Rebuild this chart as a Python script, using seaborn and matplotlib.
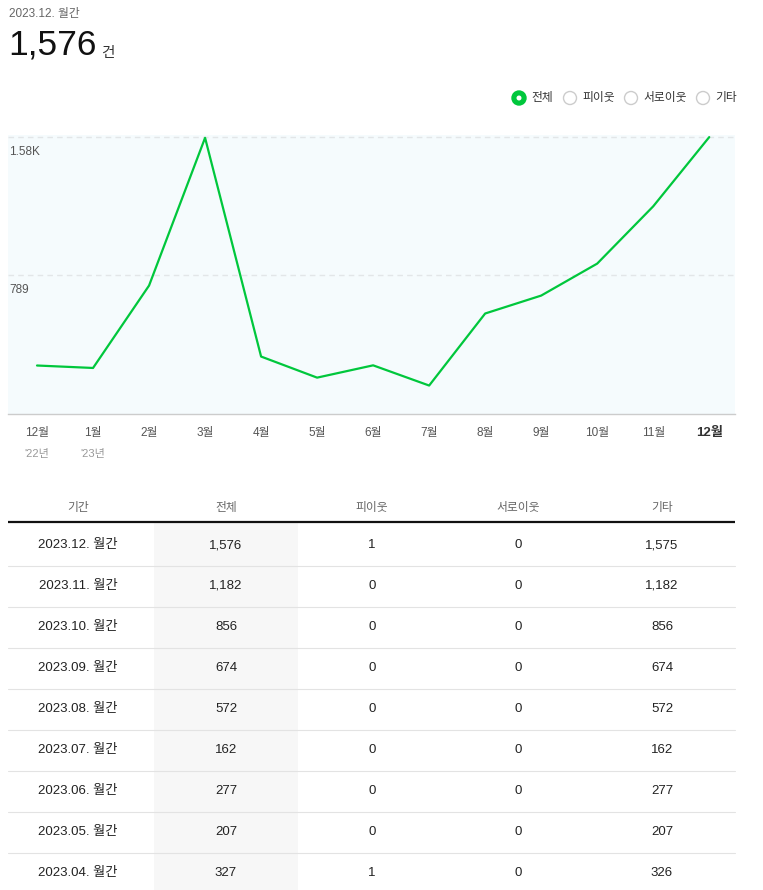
import matplotlib
matplotlib.use("Agg")
import matplotlib.pyplot as plt
import seaborn as sns
import pandas as pd
from matplotlib.patches import Circle, Rectangle

# ---------------- data ----------------
months = ["12월", "1월", "2월", "3월", "4월", "5월", "6월", "7월", "8월", "9월", "10월", "11월", "12월"]
year_marks = {0: "'22년", 1: "'23년"}
monthly_total = [276, 262, 731, 1572, 327, 207, 277, 162, 572, 674, 856, 1182, 1576]
y_ticks = [789, 1576]
y_tick_labels = ["789", "1.58K"]

legend_items = ["전체", "피이웃", "서로이웃", "기타"]

table_header = ["기간", "전체", "피이웃", "서로이웃", "기타"]
periods = ["2023.12. 월간", "2023.11. 월간", "2023.10. 월간", "2023.09. 월간", "2023.08. 월간",
           "2023.07. 월간", "2023.06. 월간", "2023.05. 월간", "2023.04. 월간"]
col_total = [1576, 1182, 856, 674, 572, 162, 277, 207, 327]
col_neighbor = [1, 0, 0, 0, 0, 0, 0, 0, 1]
col_mutual = [0, 0, 0, 0, 0, 0, 0, 0, 0]
col_other = [1575, 1182, 856, 674, 572, 162, 277, 207, 326]

title_period = "2023.12. 월간"
title_value = "1,576"
title_unit = "건"

# ---------------- style ----------------
sns.set_style("white")
plt.rcParams["font.family"] = ["Liberation Sans", "Noto Sans CJK KR", "DejaVu Sans"]

W, H = 763, 890
fig = plt.figure(figsize=(W / 100, H / 100), dpi=100)

# overlay in pixel coordinates
ov = fig.add_axes([0, 0, 1, 1])
ov.set_xlim(0, W)
ov.set_ylim(H, 0)
ov.axis("off")
ov.patch.set_alpha(0)

GREEN = "#00c73c"

# header
ov.text(9, 14, title_period, fontsize=8.5, color="#666666", va="center", ha="left")
ov.text(8, 45, title_value, fontsize=25.5, color="#111111", va="center", ha="left")
ov.text(101, 53, title_unit, fontsize=10.5, color="#333333", va="center", ha="left")

# legend radio buttons
leg_x = [519, 570, 631, 703]
for i, (lx, lab) in enumerate(zip(leg_x, legend_items)):
    if i == 0:
        ov.add_patch(Circle((lx, 98), 7, facecolor=GREEN, edgecolor=GREEN, lw=1))
        ov.add_patch(Circle((lx, 98), 2.5, facecolor="white", edgecolor="none"))
    else:
        ov.add_patch(Circle((lx, 98), 6.5, facecolor="white", edgecolor="#cccccc", lw=1))
    ov.text(lx + 12, 98, lab, fontsize=8.5, color="#333333", va="center", ha="left")

# table
col_x = [78, 226, 372, 518, 662]
ov.add_patch(Rectangle((154, 523), 144, H - 523, facecolor="#f7f7f7", edgecolor="none", zorder=0))
for cx, h in zip(col_x, table_header):
    ov.text(cx, 508, h, fontsize=8.5, color="#666666", ha="center", va="center")
ov.plot([8, 735], [522, 522], color="#111111", lw=1.6, solid_capstyle="butt")
row_y0, row_h = 545, 41
for i in range(len(periods)):
    y = row_y0 + i * row_h
    vals = [periods[i], f"{col_total[i]:,}", f"{col_neighbor[i]:,}", f"{col_mutual[i]:,}", f"{col_other[i]:,}"]
    for cx, v in zip(col_x, vals):
        ov.text(cx, y, v, fontsize=9.5, color="#222222", ha="center", va="center")
    if i < len(periods) - 1:
        ov.plot([8, 735], [y + 20.5, y + 20.5], color="#e3e3e3", lw=0.8)

# ---------------- chart ----------------
ax = fig.add_axes([8 / W, (H - 414) / H, 727 / W, 279 / H])
ax.set_facecolor("#f5fbfd")
df = pd.DataFrame({"x": list(range(len(months))), "v": monthly_total})
sns.lineplot(data=df, x="x", y="v", ax=ax, color=GREEN, lw=1.6, zorder=3)
ax.set_xlim(-0.518, 12.46)
ax.set_ylim(0, 1588)
for s in ["top", "right", "left"]:
    ax.spines[s].set_visible(False)
ax.spines["bottom"].set_color("#cccccc")
ax.spines["bottom"].set_linewidth(1)
for t in y_ticks:
    ax.axhline(t, color="#e2e6e8", lw=1, ls=(0, (4, 3)), zorder=1)
ax.set_yticks([])
ax.set_ylabel("")
ax.set_xlabel("")
ax.set_xticks(range(len(months)))
ax.set_xticklabels(months)
ax.tick_params(axis="x", length=0, pad=9.5, labelsize=8.5, labelcolor="#555555")
lbls = ax.get_xticklabels()
lbls[-1].set_fontweight("bold")
lbls[-1].set_color("#333333")
lbls[-1].set_fontsize(9.5)
for t, lab in zip(y_ticks, y_tick_labels):
    ax.annotate(lab, xy=(0, t), xycoords=("axes fraction", "data"), xytext=(1, -10.8),
                textcoords="offset points", fontsize=8.5, color="#555555", va="center", ha="left")
for xi, lab in year_marks.items():
    ax.annotate(lab, xy=(xi, 0), xycoords=("data", "axes fraction"), xytext=(0, -28.5),
                textcoords="offset points", fontsize=8, color="#999999", va="center", ha="center")

fig.savefig("out.png", dpi=100)
